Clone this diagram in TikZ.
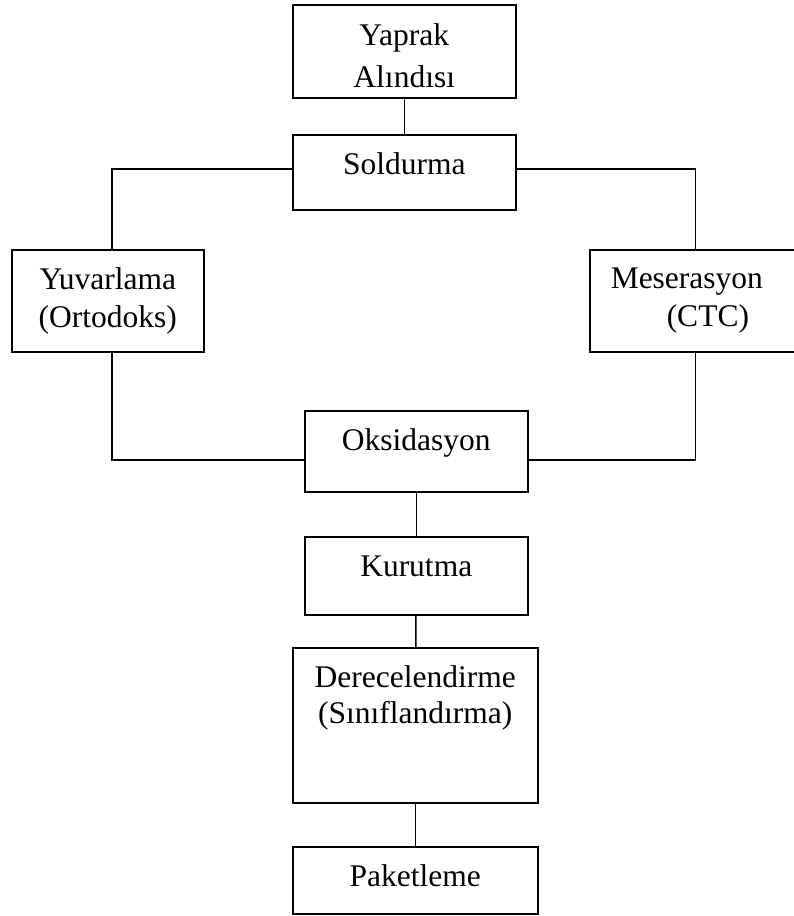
\documentclass[tikz,border=0pt]{standalone}
\usepackage{fontspec}
\setmainfont{Liberation Serif}
\tikzset{
    box/.style={draw, line width=1.5pt, rectangle, inner sep=0pt, anchor=north west, align=center, font=\fontsize{31.5}{38}\selectfont},
    link/.style={line width=1.5pt}
}

\begin{document}
\begin{tikzpicture}[x=1pt, y=-1pt]
\useasboundingbox (0,0) rectangle (794,916);
\node[box, text width=223pt, text height=41pt, text depth=52pt, font=\fontsize{31.5}{42}\selectfont] (yap) at (292,4) {Yaprak\\Alındısı};
\node[box, text width=223pt, text height=40pt, text depth=35pt] (sol) at (292,134) {Soldurma};
\node[box, text width=192pt, text height=40pt, text depth=62pt] (yuv) at (11,249) {Yuvarlama\\(Ortodoks)};
\node[box, text width=211pt, text height=39pt, text depth=63pt, align=left] (mes) at (589,249) {\hspace*{21pt}Meserasyon\\\hspace*{77pt}(CTC)};
\node[box, text width=223pt, text height=40pt, text depth=41pt] (oks) at (304,410) {Oksidasyon};
\node[box, text width=223pt, text height=40pt, text depth=38pt] (kur) at (304,536) {Kurutma};
\node[box, text width=245pt, text height=40pt, text depth=115pt, font=\fontsize{31.5}{36}\selectfont] (der) at (292,647) {Derecelendirme\\(Sınıflandırma)};
\node[box, text width=245pt, text height=40pt, text depth=27pt] (pak) at (292,846) {Paketleme};
\draw[link] (yap) -- (sol);
\draw[link] ([yshift=3.5pt]sol.west) -| ([xshift=4pt]yuv.north);
\draw[link] ([yshift=3.5pt]sol.east) -| (mes.north);
\draw[link] ([xshift=4pt]yuv.south) |- ([yshift=-8.5pt]oks.west);
\draw[link] (mes.south) |- ([yshift=-8.5pt]oks.east);
\draw[link] (oks) -- (kur);
\draw[link] (kur) -- (der);
\draw[link] (der) -- (pak);
\end{tikzpicture}
\end{document}
